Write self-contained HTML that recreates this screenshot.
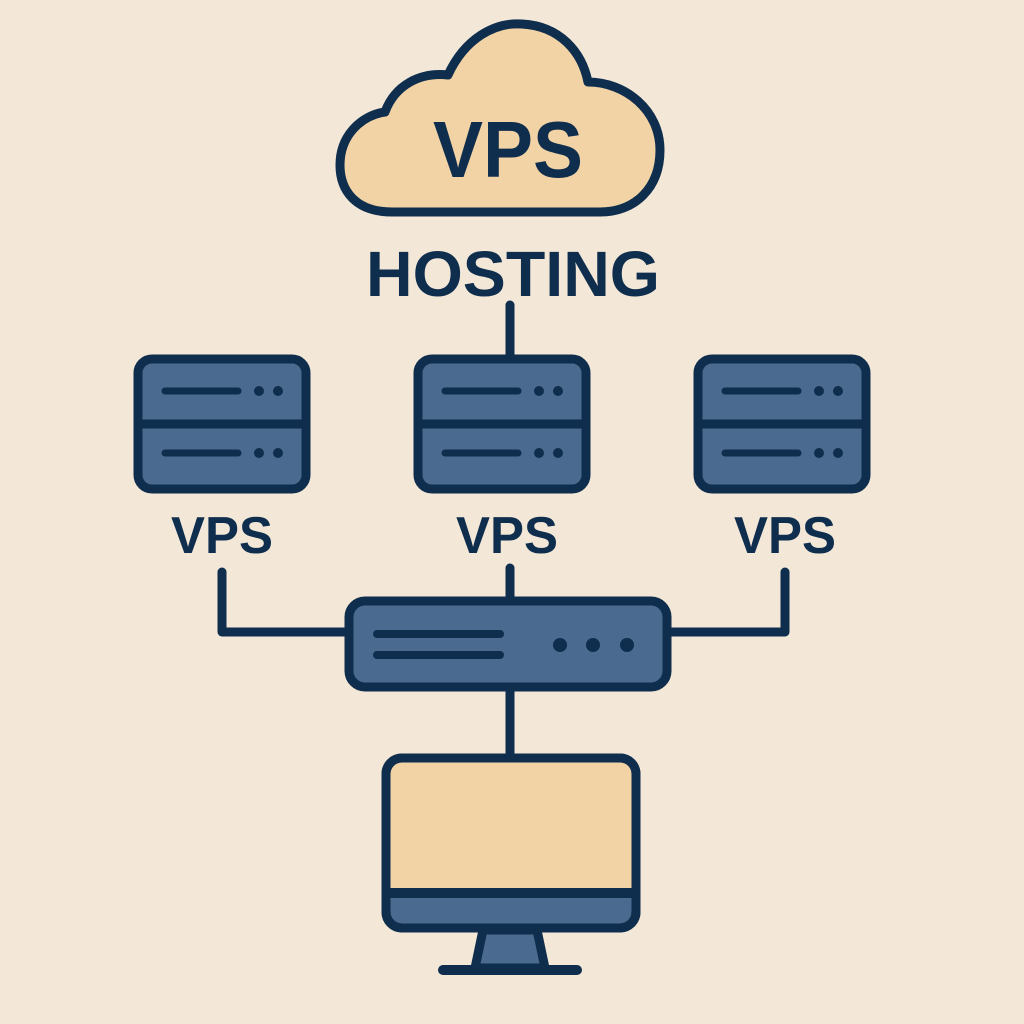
<!DOCTYPE html>
<html><head><style>body{margin:0;background:#f3e8d8}svg{display:block}</style></head><body>
<svg width="1024" height="1024" viewBox="0 0 1024 1024" xmlns="http://www.w3.org/2000/svg">
<rect width="1024" height="1024" fill="#f3e8d8"/>
<g stroke="#0f2d4d" stroke-width="9" stroke-linecap="round" stroke-linejoin="round">
<path d="M392,212 C355,212 340,190 340,165 C340,135 362,115 385,112 C395,85 420,72 448,75 C465,38 495,22 522,24 C560,26 582,52 588,82 C625,82 660,110 660,150 C660,188 635,212 600,212 Z" fill="#f2d3a5"/>
<g fill="none">
<line x1="510" y1="305" x2="510" y2="357"/>
<path d="M222,572 V632 H346"/>
<path d="M785,572 V632 H670"/>
<line x1="510" y1="568" x2="510" y2="598"/>
<line x1="510" y1="690" x2="510" y2="757"/>
</g>
<g fill="#4a6a8f">
<rect x="138" y="359" width="168" height="130" rx="14"/>
<rect x="418" y="359" width="168" height="130" rx="14"/>
<rect x="698" y="359" width="168" height="130" rx="14"/>
</g>
<line x1="138" y1="424" x2="306" y2="424"/>
<line x1="418" y1="424" x2="586" y2="424"/>
<line x1="698" y1="424" x2="866" y2="424"/>
<g stroke-width="7">
<line x1="165" y1="391" x2="238" y2="391"/><line x1="165" y1="453" x2="238" y2="453"/>
<line x1="445" y1="391" x2="518" y2="391"/><line x1="445" y1="453" x2="518" y2="453"/>
<line x1="725" y1="391" x2="798" y2="391"/><line x1="725" y1="453" x2="798" y2="453"/>
</g>
<rect x="349" y="601" width="318" height="86" rx="16" fill="#4a6a8f"/>
<g stroke-width="8"><line x1="377" y1="634" x2="500" y2="634"/><line x1="377" y1="655" x2="500" y2="655"/></g>
<path d="M483,930 L475,968 H545 L537,930 Z" fill="#4a6a8f"/>
<line x1="443" y1="970" x2="577" y2="970" stroke-width="10"/>
<rect x="386" y="758" width="250" height="170" rx="16" fill="#4a6a8f"/>
<rect x="390" y="762" width="242" height="130" fill="#f2d3a5" stroke="none"/>
<line x1="388" y1="893" x2="634" y2="893" stroke-width="10"/>
<rect x="386" y="758" width="250" height="170" rx="16" fill="none"/>
</g>
<g fill="#0f2d4d">
<circle cx="259" cy="391" r="5"/><circle cx="278" cy="391" r="5"/><circle cx="259" cy="453" r="5"/><circle cx="278" cy="453" r="5"/>
<circle cx="539" cy="391" r="5"/><circle cx="558" cy="391" r="5"/><circle cx="539" cy="453" r="5"/><circle cx="558" cy="453" r="5"/>
<circle cx="819" cy="391" r="5"/><circle cx="838" cy="391" r="5"/><circle cx="819" cy="453" r="5"/><circle cx="838" cy="453" r="5"/>
<circle cx="560" cy="645" r="7"/><circle cx="593" cy="645" r="7"/><circle cx="627" cy="645" r="7"/>
</g>
<g font-family="Liberation Sans, sans-serif" font-weight="bold" fill="#0f2d4d" text-anchor="middle">
<text x="508" y="177" font-size="80" textLength="150" lengthAdjust="spacingAndGlyphs">VPS</text>
<text x="513" y="296" font-size="64" textLength="294" lengthAdjust="spacingAndGlyphs">HOSTING</text>
<text x="222" y="553" font-size="52" textLength="102" lengthAdjust="spacingAndGlyphs">VPS</text>
<text x="507" y="553" font-size="52" textLength="102" lengthAdjust="spacingAndGlyphs">VPS</text>
<text x="785" y="553" font-size="52" textLength="102" lengthAdjust="spacingAndGlyphs">VPS</text>
</g>
</svg>
</body></html>
